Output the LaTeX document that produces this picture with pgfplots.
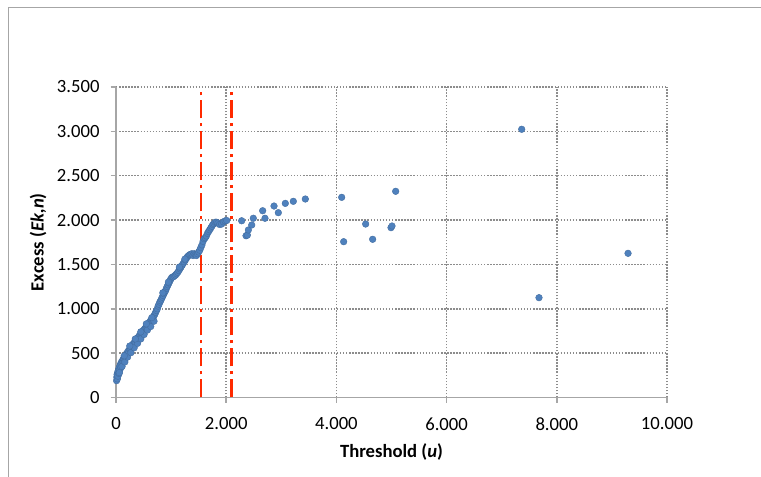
\documentclass[border=0pt]{standalone}
\usepackage{pgfplots}
\pgfplotsset{compat=1.18}
\usepackage{fontspec}
\setmainfont{Carlito}
\definecolor{ptblue}{HTML}{4F81BD}
\definecolor{gridgray}{HTML}{8C8C8C}
\definecolor{axgray}{HTML}{A6A6A6}
\definecolor{redl}{HTML}{FF2A00}
\begin{document}
\begin{tikzpicture}
\useasboundingbox (0pt,0pt) rectangle (570.75pt,357.75pt);
\draw[axgray, line width=1.1pt] (6.375pt,0pt) -- (6.375pt,352.125pt) -- (570.75pt,352.125pt);
\begin{axis}[
  at={(87pt,59.625pt)}, anchor=south west,
  scale only axis, width=413.25pt, height=232.9pt,
  xmin=0, xmax=10000, ymin=0, ymax=3500,
  xtick={0,2000,...,10000}, ytick={0,500,...,3500},
  scaled ticks=false,
  /pgf/number format/.cd, 1000 sep={.}, assume math mode=true, /pgfplots/.cd,
  axis lines=left,
  axis line style={-, axgray, line width=1.4pt},
  grid=major,
  major grid style={gridgray, line width=1.1pt, dash pattern=on 1.1pt off 1.2pt},
  tick align=outside, major tick length=4pt,
  tick style={axgray, line width=1.1pt},
  tick label style={font=\fontsize{14}{16}\selectfont, black},
  xticklabel style={yshift=-7.5pt},
  yticklabel style={xshift=-4.8pt},
  every axis x label/.style={at={(axis description cs:0.5,0)}, yshift=-41pt, anchor=center, font=\fontsize{14}{16}\selectfont\bfseries},
  every axis y label/.style={at={(axis description cs:0,0.5)}, xshift=-58.5pt, rotate=90, anchor=center, font=\fontsize{14}{16}\selectfont\bfseries},
  xlabel={Threshold (\textit{u})},
  ylabel={Excess (\textit{Ek,n})},
  clip=false,
]
\addplot[only marks, mark=*, mark size=2.5pt, mark options={fill=ptblue, draw=ptblue!85!black, line width=0.3pt}] coordinates {
(10,190)(15,230)(20,260)(25,210)(30,280)(35,240)(40,300)(50,320)(55,270)(60,340)
(70,310)(75,360)(85,380)(90,340)(100,400)(110,380)(120,420)(130,400)(140,445)(150,430)
(165,470)(175,455)(190,495)(200,480)(215,520)(230,510)(245,545)(260,540)(275,575)(290,570)
(305,600)(320,600)(335,625)(350,620)(365,650)(380,645)(395,675)(410,670)(425,700)(440,700)
(455,725)(470,720)(490,750)(505,760)(520,775)(540,790)(555,800)(570,810)(590,830)(605,845)
(620,860)(640,870)(655,880)(670,900)(690,920)(705,940)(720,960)(735,980)(750,1000)(765,1030)
(780,1050)(795,1075)(810,1090)(825,1110)(840,1130)(855,1150)(870,1170)(885,1190)(900,1205)(915,1230)
(930,1250)(945,1270)(960,1290)(975,1310)(990,1330)(1005,1345)(1020,1355)(1040,1360)(1060,1370)(1080,1380)
(1100,1395)(1120,1410)(1140,1430)(1160,1450)(1180,1470)(1200,1490)(1220,1510)(1240,1530)(1260,1550)(1280,1570)
(1300,1590)(1320,1600)(1340,1610)(1360,1615)(1380,1620)(1400,1600)(1420,1620)(1440,1610)(1460,1600)(1480,1620)
(1500,1640)(1520,1660)(1540,1690)(1560,1720)(1580,1760)(1600,1790)(1620,1800)(1640,1820)(1660,1850)(1680,1870)
(1700,1890)(1720,1910)(1740,1930)(1760,1950)(1780,1960)(1800,1975)(1827,1975)(1850,1965)(1880,1950)(1918,1955)
(1950,1980)(1980,1990)(2009,1995)
(60,280)(110,350)(160,400)(210,455)(270,505)(330,560)(390,610)(450,660)(510,710)(570,760)(630,800)(690,860)
(150,470)(250,580)(350,660)(450,740)(550,830)(650,900)(850,1180)(950,1300)(1150,1470)(1250,1560)
(2281,1992)(2360,1823)(2384,1830)(2402,1888)(2463,1944)(2492,2020)(2662,2105)(2704,2020)(2868,2158)(2946,2083)
(3073,2188)(3218,2211)(3436,2237)(4096,2256)(4132,1756)(4531,1955)(4658,1783)(4991,1914)(5009,1933)(5076,2324)
(7363,3023)(7677,1125)(9293,1625)
};
\addplot[redl, line width=2pt, dash pattern=on 13.5pt off 3.75pt on 2.25pt off 3.75pt] coordinates {(1540,0) (1540,3470)};
\addplot[redl, line width=2pt, dash pattern=on 13.5pt off 3.75pt on 2.25pt off 3.75pt] coordinates {(2100,0) (2100,3470)};
\end{axis}
\end{tikzpicture}
\end{document}
